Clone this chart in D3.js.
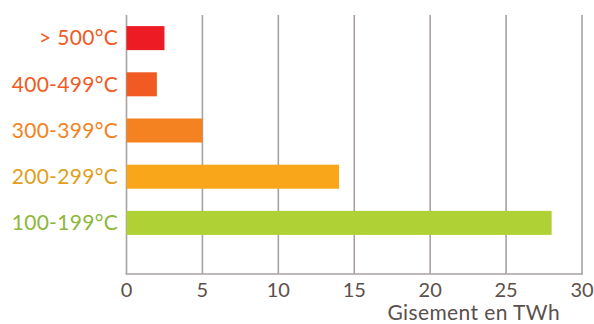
<!DOCTYPE html>
<html>
<head>
<meta charset="utf-8">
<script src="https://cdn.jsdelivr.net/npm/d3@7"></script>
<style>
  body { margin: 0; background: #fff; }
  text { font-family: Lato, "Open Sans", sans-serif; }
</style>
</head>
<body>
<div id="chart"></div>
<script>
const categories = ['> 500°C', '400-499°C', '300-399°C', '200-299°C', '100-199°C'];
const values = [2.5, 2, 5, 14, 28];
const barColors = ['#ED1C24', '#F15A22', '#F58220', '#FAA61A', '#B0D136'];
const labelColors = ['#F15A22', '#F15A22', '#F58220', '#E0A01E', '#8CB83A'];
const xTicks = [0, 5, 10, 15, 20, 25, 30];
const xTitle = 'Gisement en TWh';

const width = 594;
const height = 324;
const plotLeft = 126.5, plotRight = 582;
const plotTop = 15, axisY = 274;

const svg = d3.select('#chart')
  .append('svg')
  .attr('width', width)
  .attr('height', height);

const x = d3.scaleLinear().domain([0, 30]).range([plotLeft, plotRight]);

const y = d3.scaleBand()
  .domain(categories)
  .range([plotTop, plotTop + 46.2 * 5])
  .paddingInner(0.48)
  .paddingOuter(0.24);

// Vertical grid lines
svg.append('g')
  .selectAll('line')
  .data(xTicks)
  .enter()
  .append('line')
  .attr('x1', (d) => x(d))
  .attr('x2', (d) => x(d))
  .attr('y1', plotTop)
  .attr('y2', axisY)
  .attr('stroke', '#a8a2a0')
  .attr('stroke-width', 1.6);

// Bottom axis line
svg.append('line')
  .attr('x1', x(0) - 1)
  .attr('x2', x(30) + 1)
  .attr('y1', axisY)
  .attr('y2', axisY)
  .attr('stroke', '#a8a2a0')
  .attr('stroke-width', 1.6);

// Bars
svg.selectAll('rect.bar')
  .data(values)
  .enter()
  .append('rect')
  .attr('class', 'bar')
  .attr('x', x(0))
  .attr('y', (d, i) => y(categories[i]))
  .attr('width', (d) => x(d) - x(0))
  .attr('height', y.bandwidth())
  .attr('fill', (d, i) => barColors[i]);

// Category labels
svg.selectAll('text.cat')
  .data(categories)
  .enter()
  .append('text')
  .attr('class', 'cat')
  .attr('x', 118)
  .attr('y', (d) => y(d) + y.bandwidth() / 2)
  .attr('dy', '0.35em')
  .attr('text-anchor', 'end')
  .attr('font-size', 21)
  .attr('letter-spacing', 0.3)
  .attr('fill', (d, i) => labelColors[i])
  .text((d) => d);

// Tick labels
svg.selectAll('text.tick')
  .data(xTicks)
  .enter()
  .append('text')
  .attr('class', 'tick')
  .attr('x', (d) => x(d))
  .attr('y', 297)
  .attr('text-anchor', 'middle')
  .attr('font-size', 20)
  .attr('fill', '#5a504c')
  .text((d) => d);

// Axis title
svg.append('text')
  .attr('x', 560)
  .attr('y', 320)
  .attr('text-anchor', 'end')
  .attr('font-size', 21)
  .attr('letter-spacing', 0.4)
  .attr('fill', '#5a504c')
  .text(xTitle);
</script>
</body>
</html>
